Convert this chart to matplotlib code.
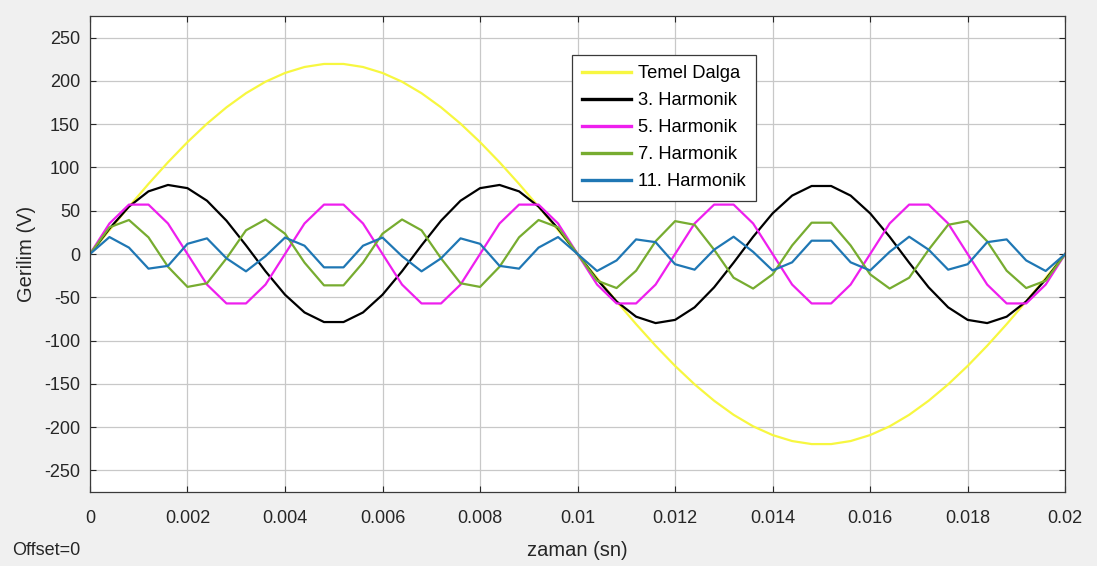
import numpy as np
import matplotlib
matplotlib.use('Agg')
import matplotlib.pyplot as plt

# Ornekleme: 0.0004 s adim, 0 - 0.02 s (51 nokta)
sample_step = 0.0004
n_samples = 51

temel = [0, 27.6, 54.7, 81.0, 106.0, 129.3, 150.6, 169.5, 185.8, 199.1, 209.2, 216.1, 219.6,
         219.6, 216.1, 209.2, 199.1, 185.8, 169.5, 150.6, 129.3, 106.0, 81.0, 54.7, 27.6, 0,
         -27.6, -54.7, -81.0, -106.0, -129.3, -150.6, -169.5, -185.8, -199.1, -209.2, -216.1, -219.6,
         -219.6, -216.1, -209.2, -199.1, -185.8, -169.5, -150.6, -129.3, -106.0, -81.0, -54.7, -27.6, 0]

harm3 = [0, 29.4, 54.8, 72.4, 79.8, 76.1, 61.6, 38.5, 10.0, -19.9, -47.0, -67.5, -78.6,
         -78.6, -67.5, -47.0, -19.9, 10.0, 38.5, 61.6, 76.1, 79.8, 72.4, 54.8, 29.4, 0,
         -29.4, -54.8, -72.4, -79.8, -76.1, -61.6, -38.5, -10.0, 19.9, 47.0, 67.5, 78.6,
         78.6, 67.5, 47.0, 19.9, -10.0, -38.5, -61.6, -76.1, -79.8, -72.4, -54.8, -29.4, 0]

harm5 = [0, 35.3, 57.1, 57.1, 35.3, 0, -35.3, -57.1, -57.1, -35.3,
         0, 35.3, 57.1, 57.1, 35.3, 0, -35.3, -57.1, -57.1, -35.3,
         0, 35.3, 57.1, 57.1, 35.3, 0, -35.3, -57.1, -57.1, -35.3,
         0, 35.3, 57.1, 57.1, 35.3, 0, -35.3, -57.1, -57.1, -35.3,
         0, 35.3, 57.1, 57.1, 35.3, 0, -35.3, -57.1, -57.1, -35.3, 0]

harm7 = [0, 30.8, 39.3, 19.3, -14.7, -38.0, -33.8, -5.0, 27.4, 39.9, 23.5, -9.9, -36.2,
         -36.2, -9.9, 23.5, 39.9, 27.4, -5.0, -33.8, -38.0, -14.7, 19.3, 39.3, 30.8, 0,
         -30.8, -39.3, -19.3, 14.7, 38.0, 33.8, 5.0, -27.4, -39.9, -23.5, 9.9, 36.2,
         36.2, 9.9, -23.5, -39.9, -27.4, 5.0, 33.8, 38.0, 14.7, -19.3, -39.3, -30.8, 0]

harm11 = [0, 19.6, 7.4, -16.9, -13.7, 11.8, 18.1, -5.0, -20.0, -2.5, 19.0, 9.6, -15.4,
          -15.4, 9.6, 19.0, -2.5, -20.0, -5.0, 18.1, 11.8, -13.7, -16.9, 7.4, 19.6, 0,
          -19.6, -7.4, 16.9, 13.7, -11.8, -18.1, 5.0, 20.0, 2.5, -19.0, -9.6, 15.4,
          15.4, -9.6, -19.0, 2.5, 20.0, 5.0, -18.1, -11.8, 13.7, 16.9, -7.4, -19.6, 0]

labels = ['Temel Dalga', '3. Harmonik', '5. Harmonik', '7. Harmonik', '11. Harmonik']
colors = ['#f7f740', '#000000', '#ee1fee', '#77ac30', '#1f77b4']

x_ticks = [0, 0.002, 0.004, 0.006, 0.008, 0.01, 0.012, 0.014, 0.016, 0.018, 0.02]
x_tick_labels = ['0', '0.002', '0.004', '0.006', '0.008', '0.01', '0.012', '0.014', '0.016', '0.018', '0.02']
y_ticks = [-250, -200, -150, -100, -50, 0, 50, 100, 150, 200, 250]

plt.rcParams['font.family'] = ['Liberation Sans', 'DejaVu Sans']
plt.rcParams['axes.unicode_minus'] = False

time = np.arange(n_samples) * sample_step

fig = plt.figure(figsize=(10.97, 5.66), dpi=100, facecolor='#f0f0f0')
ax = fig.add_axes([0.082, 0.1307, 0.889, 0.841])
ax.set_facecolor('white')

for series, lab, col in zip([temel, harm3, harm5, harm7, harm11], labels, colors):
    ax.plot(time, series, color=col, linewidth=1.6, label=lab)

ax.set_xlim(0, 0.02)
ax.set_ylim(-275, 275)
ax.set_xticks(x_ticks)
ax.set_xticklabels(x_tick_labels)
ax.set_yticks(y_ticks)
ax.grid(True, color='#c8c8c8', linewidth=0.9)
ax.set_axisbelow(True)
ax.tick_params(direction='in', length=4, labelsize=13, colors='#262626',
               top=True, right=True)
ax.tick_params(axis='x', pad=13)
ax.tick_params(axis='y', pad=7)
for sp in ax.spines.values():
    sp.set_color('#3a3a3a')
    sp.set_linewidth(0.9)

ax.set_xlabel('zaman (sn)', fontsize=14.5, color='#262626', labelpad=10)
ax.set_ylabel('Gerilim (V)', fontsize=14.5, color='#262626', labelpad=6)

leg = ax.legend(loc='upper left', bbox_to_anchor=(0.494, 0.918), fontsize=13.2,
                fancybox=False, framealpha=1, edgecolor='#3a3a3a',
                handlelength=2.7, handletextpad=0.35, labelspacing=0.55,
                borderpad=0.55, borderaxespad=0)
leg.get_frame().set_linewidth(0.9)
for line in leg.get_lines():
    line.set_linewidth(2.4)

fig.text(0.011, 0.02, 'Offset=0', fontsize=13, color='#262626')

fig.savefig('out.png', dpi=100, facecolor=fig.get_facecolor())
